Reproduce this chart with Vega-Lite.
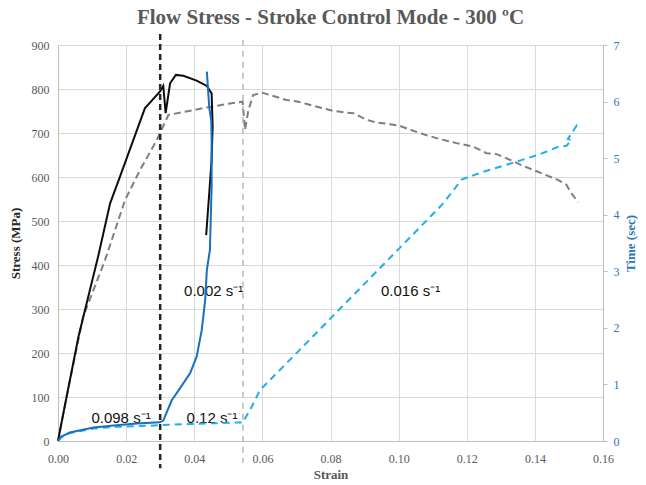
{
  "$schema": "https://vega.github.io/schema/vega-lite/v6.json",
  "width": 545,
  "height": 396,
  "autosize": {"type": "none"},
  "padding": {"left": 58, "top": 45, "right": 43, "bottom": 44},
  "background": "white",
  "title": {
    "text": "Flow Stress - Stroke Control Mode - 300 ºC",
    "font": "Liberation Serif",
    "fontSize": 21,
    "fontWeight": "bold",
    "color": "#595959",
    "anchor": "middle",
    "offset": 5
  },
  "config": {
    "view": {"stroke": null},
    "axis": {
      "labelFont": "Liberation Serif",
      "labelFontSize": 12,
      "labelColor": "#595959",
      "labelFlush": false,
      "titleFont": "Liberation Serif",
      "titleFontSize": 13,
      "titleFontWeight": "bold",
      "gridColor": "#d9d9d9",
      "gridWidth": 1,
      "domainColor": "#bfbfbf",
      "ticks": false
    }
  },
  "datasets": {
    "stress": [
      {"series": "black", "i": 0, "strain": 0, "stress": 0},
      {"series": "black", "i": 1, "strain": 0.0015, "stress": 60},
      {"series": "black", "i": 2, "strain": 0.006, "stress": 237},
      {"series": "black", "i": 3, "strain": 0.0118, "stress": 420},
      {"series": "black", "i": 4, "strain": 0.0153, "stress": 540},
      {"series": "black", "i": 5, "strain": 0.0182, "stress": 601},
      {"series": "black", "i": 6, "strain": 0.0255, "stress": 756},
      {"series": "black", "i": 7, "strain": 0.0299, "stress": 794},
      {"series": "black", "i": 8, "strain": 0.0309, "stress": 807},
      {"series": "black", "i": 9, "strain": 0.0316, "stress": 745},
      {"series": "black", "i": 10, "strain": 0.0329, "stress": 813},
      {"series": "black", "i": 11, "strain": 0.0346, "stress": 832},
      {"series": "black", "i": 12, "strain": 0.0368, "stress": 830},
      {"series": "black", "i": 13, "strain": 0.0407, "stress": 819},
      {"series": "black", "i": 14, "strain": 0.0437, "stress": 807},
      {"series": "black", "i": 15, "strain": 0.0451, "stress": 790},
      {"series": "black", "i": 16, "strain": 0.0454, "stress": 714},
      {"series": "black", "i": 17, "strain": 0.0451, "stress": 639},
      {"series": "black", "i": 18, "strain": 0.0444, "stress": 563},
      {"series": "black", "i": 19, "strain": 0.0435, "stress": 468},
      {"series": "gray", "i": 0, "strain": 0, "stress": 0},
      {"series": "gray", "i": 1, "strain": 0.0025, "stress": 100},
      {"series": "gray", "i": 2, "strain": 0.0074, "stress": 283},
      {"series": "gray", "i": 3, "strain": 0.0138, "stress": 411},
      {"series": "gray", "i": 4, "strain": 0.0197, "stress": 548},
      {"series": "gray", "i": 5, "strain": 0.0241, "stress": 616},
      {"series": "gray", "i": 6, "strain": 0.029, "stress": 684},
      {"series": "gray", "i": 7, "strain": 0.0324, "stress": 741},
      {"series": "gray", "i": 8, "strain": 0.0437, "stress": 758},
      {"series": "gray", "i": 9, "strain": 0.0505, "stress": 767},
      {"series": "gray", "i": 10, "strain": 0.0542, "stress": 771},
      {"series": "gray", "i": 11, "strain": 0.0549, "stress": 707},
      {"series": "gray", "i": 12, "strain": 0.0559, "stress": 752},
      {"series": "gray", "i": 13, "strain": 0.0573, "stress": 786},
      {"series": "gray", "i": 14, "strain": 0.0598, "stress": 792},
      {"series": "gray", "i": 15, "strain": 0.0632, "stress": 784},
      {"series": "gray", "i": 16, "strain": 0.0671, "stress": 775},
      {"series": "gray", "i": 17, "strain": 0.0706, "stress": 771},
      {"series": "gray", "i": 18, "strain": 0.073, "stress": 766},
      {"series": "gray", "i": 19, "strain": 0.0769, "stress": 758},
      {"series": "gray", "i": 20, "strain": 0.0804, "stress": 751},
      {"series": "gray", "i": 21, "strain": 0.0838, "stress": 747},
      {"series": "gray", "i": 22, "strain": 0.0867, "stress": 745},
      {"series": "gray", "i": 23, "strain": 0.0906, "stress": 730},
      {"series": "gray", "i": 24, "strain": 0.0935, "stress": 724},
      {"series": "gray", "i": 25, "strain": 0.0975, "stress": 720},
      {"series": "gray", "i": 26, "strain": 0.1004, "stress": 716},
      {"series": "gray", "i": 27, "strain": 0.1043, "stress": 705},
      {"series": "gray", "i": 28, "strain": 0.1082, "stress": 695},
      {"series": "gray", "i": 29, "strain": 0.1122, "stress": 686},
      {"series": "gray", "i": 30, "strain": 0.117, "stress": 677},
      {"series": "gray", "i": 31, "strain": 0.1219, "stress": 669},
      {"series": "gray", "i": 32, "strain": 0.1258, "stress": 654},
      {"series": "gray", "i": 33, "strain": 0.1288, "stress": 652},
      {"series": "gray", "i": 34, "strain": 0.1327, "stress": 639},
      {"series": "gray", "i": 35, "strain": 0.1366, "stress": 625},
      {"series": "gray", "i": 36, "strain": 0.1415, "stress": 610},
      {"series": "gray", "i": 37, "strain": 0.1469, "stress": 593},
      {"series": "gray", "i": 38, "strain": 0.1493, "stress": 582},
      {"series": "gray", "i": 39, "strain": 0.1505, "stress": 565},
      {"series": "gray", "i": 40, "strain": 0.1527, "stress": 543}
    ],
    "time": [
      {"series": "solid", "i": 0, "strain": 0, "time": 0},
      {"series": "solid", "i": 1, "strain": 0.001, "time": 0.08},
      {"series": "solid", "i": 2, "strain": 0.0035, "time": 0.15},
      {"series": "solid", "i": 3, "strain": 0.0104, "time": 0.24},
      {"series": "solid", "i": 4, "strain": 0.0172, "time": 0.28},
      {"series": "solid", "i": 5, "strain": 0.0231, "time": 0.31},
      {"series": "solid", "i": 6, "strain": 0.0299, "time": 0.33},
      {"series": "solid", "i": 7, "strain": 0.0309, "time": 0.36},
      {"series": "solid", "i": 8, "strain": 0.0334, "time": 0.72},
      {"series": "solid", "i": 9, "strain": 0.0358, "time": 0.93},
      {"series": "solid", "i": 10, "strain": 0.0388, "time": 1.2},
      {"series": "solid", "i": 11, "strain": 0.0407, "time": 1.49},
      {"series": "solid", "i": 12, "strain": 0.0422, "time": 1.96},
      {"series": "solid", "i": 13, "strain": 0.0432, "time": 2.49},
      {"series": "solid", "i": 14, "strain": 0.0437, "time": 3.02},
      {"series": "solid", "i": 15, "strain": 0.0446, "time": 3.38},
      {"series": "solid", "i": 16, "strain": 0.0451, "time": 4.5},
      {"series": "solid", "i": 17, "strain": 0.0451, "time": 5.3},
      {"series": "solid", "i": 18, "strain": 0.045, "time": 5.65},
      {"series": "solid", "i": 19, "strain": 0.0444, "time": 5.9},
      {"series": "solid", "i": 20, "strain": 0.0437, "time": 6.53},
      {"series": "dashed", "i": 0, "strain": 0, "time": 0},
      {"series": "dashed", "i": 1, "strain": 0.001, "time": 0.07},
      {"series": "dashed", "i": 2, "strain": 0.0035, "time": 0.14},
      {"series": "dashed", "i": 3, "strain": 0.0104, "time": 0.22},
      {"series": "dashed", "i": 4, "strain": 0.0172, "time": 0.25},
      {"series": "dashed", "i": 5, "strain": 0.027, "time": 0.27},
      {"series": "dashed", "i": 6, "strain": 0.0299, "time": 0.28},
      {"series": "dashed", "i": 7, "strain": 0.0388, "time": 0.3},
      {"series": "dashed", "i": 8, "strain": 0.0545, "time": 0.33},
      {"series": "dashed", "i": 9, "strain": 0.0549, "time": 0.4},
      {"series": "dashed", "i": 10, "strain": 0.0564, "time": 0.55},
      {"series": "dashed", "i": 11, "strain": 0.0593, "time": 0.9},
      {"series": "dashed", "i": 12, "strain": 0.0711, "time": 1.62},
      {"series": "dashed", "i": 13, "strain": 0.1063, "time": 3.78},
      {"series": "dashed", "i": 14, "strain": 0.1131, "time": 4.2},
      {"series": "dashed", "i": 15, "strain": 0.1185, "time": 4.62},
      {"series": "dashed", "i": 16, "strain": 0.1249, "time": 4.76},
      {"series": "dashed", "i": 17, "strain": 0.1337, "time": 4.92},
      {"series": "dashed", "i": 18, "strain": 0.1415, "time": 5.07},
      {"series": "dashed", "i": 19, "strain": 0.1469, "time": 5.2},
      {"series": "dashed", "i": 20, "strain": 0.1493, "time": 5.22},
      {"series": "dashed", "i": 21, "strain": 0.1508, "time": 5.32},
      {"series": "dashed", "i": 22, "strain": 0.1497, "time": 5.34},
      {"series": "dashed", "i": 23, "strain": 0.1522, "time": 5.57},
      {"series": "dashed", "i": 24, "strain": 0.1527, "time": 5.5}
    ],
    "rules": [
      {"kind": "black", "strain": 0.0300, "top": 925, "bottom": -62},
      {"kind": "gray", "strain": 0.0543, "top": 912, "bottom": -50}
    ],
    "labels": [
      {"label": "0.098 s⁻¹", "strain": 0.0185, "stress": 52},
      {"label": "0.12 s⁻¹", "strain": 0.0452, "stress": 52},
      {"label": "0.002 s⁻¹", "strain": 0.0457, "stress": 341},
      {"label": "0.016 s⁻¹", "strain": 0.1035, "stress": 341}
    ]
  },
  "encoding": {
    "x": {
      "field": "strain", "type": "quantitative",
      "scale": {"domain": [0, 0.16], "nice": false, "zero": false},
      "axis": {
        "title": "Strain", "titleColor": "#595959", "titlePadding": 4,
        "values": [0, 0.02, 0.04, 0.06, 0.08, 0.1, 0.12, 0.14, 0.16],
        "format": ".2f", "labelPadding": 12, "grid": true
      }
    }
  },
  "layer": [
    {
      "layer": [
        {
          "data": {"name": "stress"},
          "transform": [{"filter": "datum.series === 'gray'"}],
          "mark": {"type": "line", "color": "#7f7f7f", "strokeWidth": 2, "strokeDash": [7, 4]},
          "encoding": {
            "y": {
              "field": "stress", "type": "quantitative",
              "scale": {"domain": [0, 900], "nice": false},
              "axis": {
                "orient": "left", "title": "Stress (MPa)", "titleColor": "#262626",
                "values": [0, 100, 200, 300, 400, 500, 600, 700, 800, 900],
                "labelPadding": 9, "titlePadding": 9, "grid": true
              }
            },
            "order": {"field": "i", "type": "quantitative"}
          }
        },
        {
          "data": {"name": "stress"},
          "transform": [{"filter": "datum.series === 'black'"}],
          "mark": {"type": "line", "color": "#0d0d0d", "strokeWidth": 2},
          "encoding": {
            "y": {"field": "stress", "type": "quantitative"},
            "order": {"field": "i", "type": "quantitative"}
          }
        },
        {
          "data": {"name": "rules"},
          "transform": [{"filter": "datum.kind === 'black'"}],
          "mark": {"type": "rule", "color": "#262626", "strokeWidth": 2.5, "strokeDash": [6, 4], "clip": false},
          "encoding": {
            "y": {"field": "top", "type": "quantitative"},
            "y2": {"field": "bottom"}
          }
        },
        {
          "data": {"name": "rules"},
          "transform": [{"filter": "datum.kind === 'gray'"}],
          "mark": {"type": "rule", "color": "#a6a6a6", "strokeWidth": 1.2, "strokeDash": [6, 5], "clip": false},
          "encoding": {
            "y": {"field": "top", "type": "quantitative"},
            "y2": {"field": "bottom"}
          }
        },
        {
          "data": {"name": "labels"},
          "mark": {"type": "text", "font": "Liberation Sans", "fontSize": 15, "color": "#111111", "align": "center", "baseline": "middle"},
          "encoding": {
            "y": {"field": "stress", "type": "quantitative"},
            "text": {"field": "label"}
          }
        }
      ]
    },
    {
      "layer": [
        {
          "data": {"name": "time"},
          "transform": [{"filter": "datum.series === 'dashed'"}],
          "mark": {"type": "line", "color": "#1fb0ea", "strokeWidth": 2, "strokeDash": [7, 5]},
          "encoding": {
            "y": {
              "field": "time", "type": "quantitative",
              "scale": {"domain": [0, 7], "nice": false},
              "axis": {
                "orient": "right", "title": "Time (sec)", "titleColor": "#2e75b6",
                "titleAngle": -90, "titlePadding": 18, "format": "d",
                "labelColor": "#2e75b6", "values": [0, 1, 2, 3, 4, 5, 6, 7],
                "grid": false, "ticks": true, "tickSize": 4, "tickColor": "#bfbfbf",
                "labelPadding": 6
              }
            },
            "order": {"field": "i", "type": "quantitative"}
          }
        },
        {
          "data": {"name": "time"},
          "transform": [{"filter": "datum.series === 'solid'"}],
          "mark": {"type": "line", "color": "#1a6fc2", "strokeWidth": 2},
          "encoding": {
            "y": {"field": "time", "type": "quantitative"},
            "order": {"field": "i", "type": "quantitative"}
          }
        }
      ]
    }
  ],
  "resolve": {"scale": {"y": "independent"}}
}
